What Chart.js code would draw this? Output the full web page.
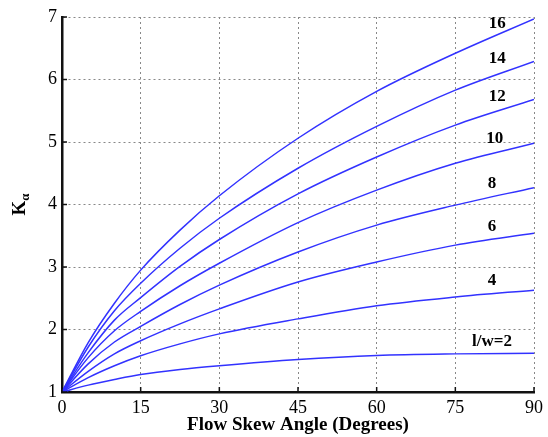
<!DOCTYPE html>
<html><head><meta charset="utf-8">
<script src="https://cdn.jsdelivr.net/npm/chart.js@4"></script>
<style>html,body{margin:0;padding:0;background:#fff}</style>
</head><body>
<canvas id="c" width="548" height="437" style="display:block;width:548px;height:437px"></canvas>
<script>
// Flow skew angle (degrees) at which values were read
const angles = [0, 5, 10, 15, 22.5, 30, 45, 60, 75, 90];
// K_alpha, one array per l/w curve
const kLw2  = [1, 1.11, 1.20, 1.28, 1.36, 1.42, 1.52, 1.585, 1.61, 1.62];
const kLw4  = [1, 1.23, 1.42, 1.58, 1.77, 1.93, 2.17, 2.38, 2.52, 2.63];
const kLw6  = [1, 1.33, 1.61, 1.82, 2.09, 2.33, 2.76, 3.08, 3.35, 3.54];
const kLw8  = [1, 1.45, 1.80, 2.05, 2.40, 2.71, 3.24, 3.67, 3.99, 4.27];
const kLw10 = [1, 1.55, 1.98, 2.29, 2.70, 3.06, 3.71, 4.23, 4.66, 4.98];
const kLw12 = [1, 1.63, 2.15, 2.51, 3.01, 3.44, 4.17, 4.76, 5.27, 5.68];
const kLw14 = [1, 1.72, 2.30, 2.74, 3.30, 3.78, 4.58, 5.25, 5.83, 6.29];
const kLw16 = [1, 1.79, 2.42, 2.95, 3.59, 4.14, 5.06, 5.81, 6.42, 6.97];
const seriesNames = ['l/w=2', '4', '6', '8', '10', '12', '14', '16'];
// where the curve labels sit (angle, K)
const labelAngles = [82, 82, 82, 82, 82.5, 83, 83, 83];
const labelK = [1.80, 2.79, 3.64, 4.34, 5.06, 5.73, 6.33, 6.89];
const xTicks = [0, 15, 30, 45, 60, 75, 90];
const yTicks = [1, 2, 3, 4, 5, 6, 7];
const xTitle = 'Flow Skew Angle (Degrees)';
const yTitleMain = 'K';
const yTitleSub = 'α';

const allSeries = [kLw2, kLw4, kLw6, kLw8, kLw10, kLw12, kLw14, kLw16];
const blue = 'rgb(50,50,255)';
const datasets = allSeries.map((s, i) => ({
  label: seriesNames[i],
  data: angles.map((a, j) => ({x: a, y: s[j]})),
  borderColor: blue,
  borderWidth: 1.5,
  pointRadius: 0,
  fill: false,
  cubicInterpolationMode: 'monotone'
}));

const SERIF = '"Liberation Serif", "Times New Roman", serif';

const decor = {
  id: 'decor',
  afterDraw(chart) {
    const {ctx, chartArea: a, scales: {x, y}} = chart;
    ctx.save();
    ctx.strokeStyle = '#111';
    ctx.lineWidth = 1.5;
    yTicks.forEach(v => {
      const py = y.getPixelForValue(v);
      ctx.beginPath(); ctx.moveTo(a.left, py); ctx.lineTo(a.left + 5, py); ctx.stroke();
    });
    xTicks.forEach(v => {
      const px = x.getPixelForValue(v);
      ctx.beginPath(); ctx.moveTo(px, a.bottom); ctx.lineTo(px, a.bottom - 5); ctx.stroke();
    });
    ctx.fillStyle = '#000';
    ctx.font = 'bold 17px ' + SERIF;
    ctx.textAlign = 'center';
    ctx.textBaseline = 'middle';
    seriesNames.forEach((n, i) => {
      ctx.fillText(n, x.getPixelForValue(labelAngles[i]), y.getPixelForValue(labelK[i]));
    });
    ctx.font = 'bold 19px ' + SERIF;
    ctx.fillText(xTitle, (a.left + a.right) / 2, 425);
    // y title with subscript
    ctx.translate(20, (a.top + a.bottom) / 2);
    ctx.rotate(-Math.PI / 2);
    ctx.font = 'bold 19px ' + SERIF;
    const wK = ctx.measureText(yTitleMain).width;
    ctx.font = 'bold 13px ' + SERIF;
    const wA = ctx.measureText(yTitleSub).width;
    const start = -(wK + wA) / 2;
    ctx.textAlign = 'left';
    ctx.font = 'bold 19px ' + SERIF;
    ctx.fillText(yTitleMain, start, 0);
    ctx.font = 'bold 13px ' + SERIF;
    ctx.fillText(yTitleSub, start + wK, 6);
    ctx.restore();
  }
};

new Chart(document.getElementById('c'), {
  type: 'line',
  data: {datasets},
  options: {
    responsive: false,
    animation: false,
    events: [],
    layout: {padding: {top: 17, right: 12, left: 0, bottom: 0}},
    plugins: {legend: {display: false}, tooltip: {enabled: false}},
    scales: {
      x: {
        type: 'linear', min: 0, max: 90,
        afterFit: s => { s.height = 45; },
        afterBuildTicks: s => { s.ticks = xTicks.map(v => ({value: v})); },
        ticks: {color: '#000', font: {family: SERIF, size: 18}, padding: 5, maxRotation: 0},
        grid: {color: '#888', lineWidth: 1, drawTicks: false, tickLength: 0},
        border: {display: true, color: '#111', width: 2.5, dash: [2, 3]}
      },
      y: {
        type: 'linear', min: 1, max: 7,
        afterFit: s => { s.width = 62; },
        afterBuildTicks: s => { s.ticks = yTicks.map(v => ({value: v})); },
        ticks: {color: '#000', font: {family: SERIF, size: 18}, padding: 5},
        grid: {color: '#888', lineWidth: 1, drawTicks: false, tickLength: 0},
        border: {display: true, color: '#111', width: 2.5, dash: [2, 3]}
      }
    }
  },
  plugins: [decor]
});
</script>
</body></html>
